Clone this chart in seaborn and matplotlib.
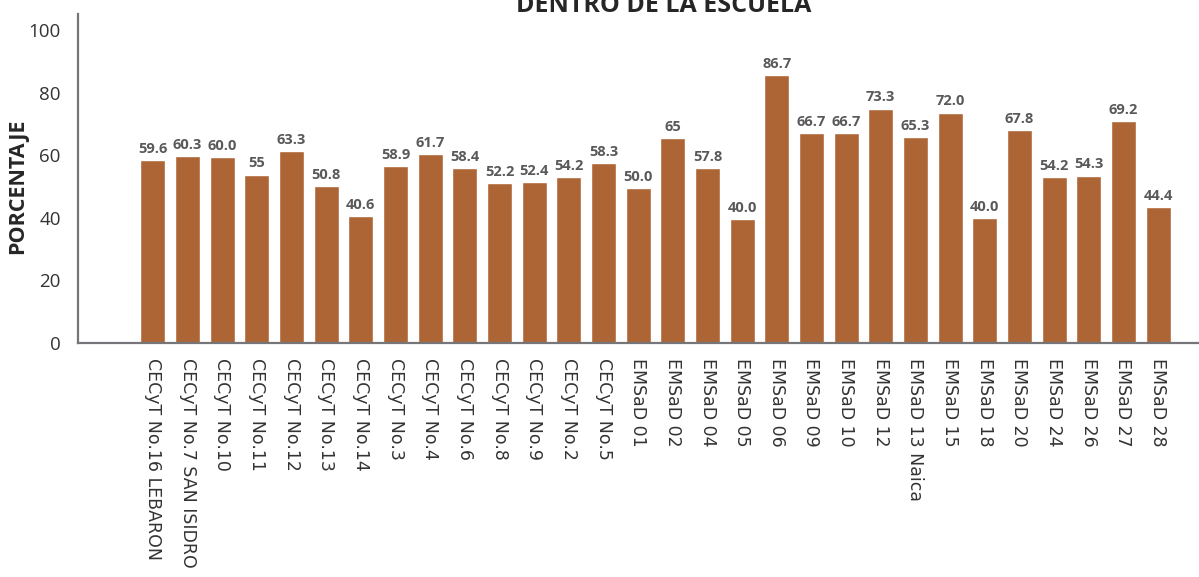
import numpy as np
import pandas as pd
import seaborn as sns
import matplotlib.pyplot as plt

escuelas = ["CECyT No.16 LEBARON", "CECyT No.7 SAN ISIDRO", "CECyT No.10", "CECyT No.11",
            "CECyT No.12", "CECyT No.13", "CECyT No.14", "CECyT No.3", "CECyT No.4",
            "CECyT No.6", "CECyT No.8", "CECyT No.9", "CECyT No.2", "CECyT No.5",
            "EMSaD 01", "EMSaD 02", "EMSaD 04", "EMSaD 05", "EMSaD 06", "EMSaD 09",
            "EMSaD 10", "EMSaD 12", "EMSaD 13 Naica", "EMSaD 15", "EMSaD 18",
            "EMSaD 20", "EMSaD 24", "EMSaD 26", "EMSaD 27", "EMSaD 28"]

# bar heights as drawn in the picture
porcentaje = [58.5, 59.8, 59.5, 53.8, 61.4, 50.2, 40.6, 56.6, 60.4, 55.9,
              51.2, 51.5, 53.1, 57.5, 49.6, 65.6, 56.0, 39.7, 85.7, 67.2,
              67.2, 74.9, 65.9, 73.6, 40.0, 68.1, 53.1, 53.5, 71.0, 43.5]

# value labels as printed above the bars
etiquetas = ["59.6", "60.3", "60.0", "55", "63.3", "50.8", "40.6", "58.9", "61.7", "58.4",
             "52.2", "52.4", "54.2", "58.3", "50.0", "65", "57.8", "40.0", "86.7", "66.7",
             "66.7", "73.3", "65.3", "72.0", "40.0", "67.8", "54.2", "54.3", "69.2", "44.4"]

df = pd.DataFrame({"escuela": escuelas, "porcentaje": porcentaje})

sns.set_style("white")
plt.rcParams["font.family"] = ["DejaVu Sans"]

fig = plt.figure(figsize=(11.99, 5.77), dpi=100)
ax = fig.add_axes([0.0651, 0.4055, 0.9349, 0.5696])

sns.barplot(data=df, x="escuela", y="porcentaje", color="#AE6535",
            saturation=1, width=0.72, ax=ax)

ax.bar_label(ax.containers[0], labels=etiquetas, padding=3, fontsize=10.5,
             fontweight="bold", color="#595959", family="Open Sans")

ax.set_xlim(-2.16, 30.18)
ax.set_ylim(0, 105)
ax.set_yticks([0, 20, 40, 60, 80, 100])
ax.set_xlabel("")
ax.set_ylabel("")

for s in ["top", "right"]:
    ax.spines[s].set_visible(False)
for s in ["left", "bottom"]:
    ax.spines[s].set_color("#76767a")
    ax.spines[s].set_linewidth(1.6)

ax.tick_params(axis="both", length=6.5, width=1.6, color="#76767a")
ax.tick_params(axis="x", labelsize=12.5, labelcolor="#333333", rotation=270, pad=4)
ax.tick_params(axis="y", labelsize=13.5, labelcolor="#333333", pad=6)
for t in ax.get_yticklabels():
    t.set_family("Open Sans")
for t in ax.get_xticklabels():
    t.set_va("top")
    t.set_ha("center")

fig.text(18 / 1199, 1 - 186 / 577, "PORCENTAJE", rotation=90, ha="center", va="center",
         fontsize=15.5, fontweight="bold", color="#262626", family="Open Sans")
fig.text(664 / 1199, 1 - 12 / 577, "DENTRO DE LA ESCUELA", ha="center", va="baseline",
         fontsize=18, fontweight="bold", color="#262626", family="Open Sans")

fig.savefig("out.png", dpi=100)
